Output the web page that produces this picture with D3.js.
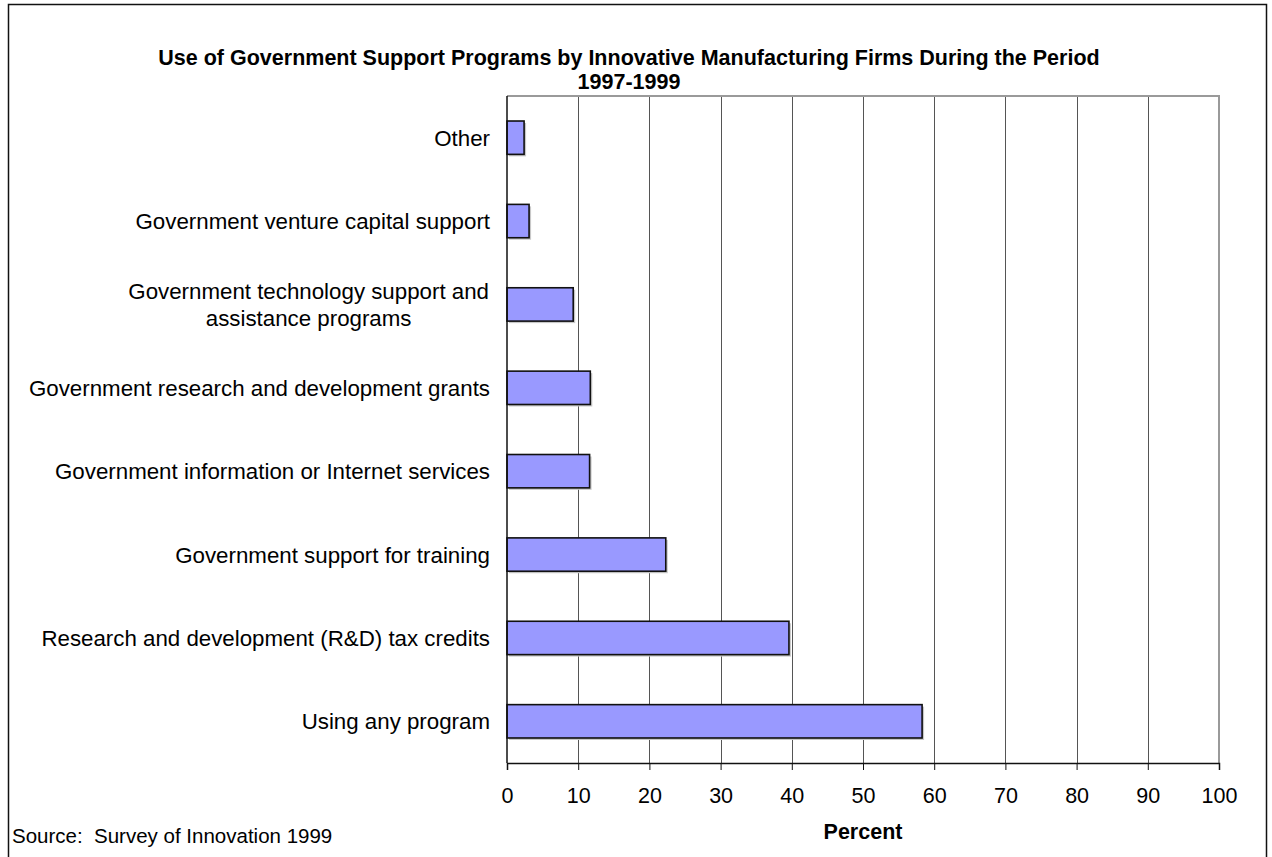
<!DOCTYPE html>
<html>
<head>
<meta charset="utf-8">
<script src="https://cdn.jsdelivr.net/npm/d3@7"></script>
<style>
  html, body { margin: 0; padding: 0; background: #fff; }
  svg { display: block; font-family: "Liberation Sans", Arial, sans-serif; }
</style>
</head>
<body>
<svg id="chart" width="1272" height="857"></svg>
<script>
// Programs listed top to bottom, with share of innovative manufacturing firms (%)
const categories = [
  ["Other"],
  ["Government venture capital support"],
  ["Government technology support and", "assistance programs"],
  ["Government research and development grants"],
  ["Government information or Internet services"],
  ["Government support for training"],
  ["Research and development (R&D) tax credits"],
  ["Using any program"]
];
const values = [2.4, 3.1, 9.3, 11.7, 11.6, 22.3, 39.6, 58.3];
const xTicks = [0, 10, 20, 30, 40, 50, 60, 70, 80, 90, 100];
const titleLines = [
  "Use of Government Support Programs by Innovative Manufacturing Firms During the Period",
  "1997-1999"
];
const xTitle = "Percent";
const sourceNote = "Source:\u00a0\u00a0Survey of Innovation 1999";

const svg = d3.select("#chart");
const plot = { left: 507, right: 1219, top: 96, bottom: 763 };

const x = d3.scaleLinear().domain([0, 100]).range([plot.left, plot.right]);
const y = d3.scaleBand()
  .domain(d3.range(categories.length))
  .range([plot.top, plot.bottom])
  .paddingInner(0.6)
  .paddingOuter(0.3);

// Outer frame
svg.append("path")
  .attr("d", `M8.5,857 V4.5 H1266.5 V857`)
  .attr("fill", "none")
  .attr("stroke", "#111")
  .attr("stroke-width", 1.5);

// Title
svg.append("g").selectAll("text")
  .data(titleLines)
  .join("text")
  .attr("x", 629)
  .attr("y", (d, i) => 65 + i * 24)
  .attr("text-anchor", "middle")
  .attr("font-weight", "bold")
  .attr("font-size", 21.5)
  .text(d => d);

// Vertical gridlines
svg.append("g").selectAll("line")
  .data(xTicks.slice(1, -1))
  .join("line")
  .attr("x1", d => Math.round(x(d)) + 0.5)
  .attr("x2", d => Math.round(x(d)) + 0.5)
  .attr("y1", plot.top)
  .attr("y2", plot.bottom)
  .attr("stroke", "#555")
  .attr("stroke-width", 1);

// Plot area border (top and right)
svg.append("path")
  .attr("d", `M${plot.left},${plot.top} H${plot.right} V${plot.bottom}`)
  .attr("fill", "none")
  .attr("stroke", "#9a9a9a")
  .attr("stroke-width", 2);

// Bars: drop shadow then bar
const bars = svg.append("g");
bars.selectAll("rect.shadow")
  .data(values)
  .join("rect")
  .attr("class", "shadow")
  .attr("x", x(0) + 2)
  .attr("y", (d, i) => y(i) + 2)
  .attr("width", d => x(d) - x(0))
  .attr("height", y.bandwidth())
  .attr("fill", "#c8c8c8");
bars.selectAll("rect.bar")
  .data(values)
  .join("rect")
  .attr("class", "bar")
  .attr("x", x(0))
  .attr("y", (d, i) => y(i))
  .attr("width", d => x(d) - x(0))
  .attr("height", y.bandwidth())
  .attr("fill", "#9999ff")
  .attr("stroke", "#111")
  .attr("stroke-width", 1.6);

// Bottom axis
const xAxis = d3.axisBottom(x)
  .tickValues(xTicks)
  .tickSize(7)
  .tickFormat(d3.format("d"));
const gx = svg.append("g")
  .attr("transform", `translate(0,${plot.bottom})`)
  .call(xAxis);
gx.select(".domain").attr("stroke", "#111").attr("stroke-width", 1.5);
gx.selectAll(".tick line").attr("stroke", "#111");
gx.selectAll(".tick text")
  .attr("y", 40)
  .attr("dy", null)
  .attr("font-size", 21.5)
  .attr("font-family", "Liberation Sans, Arial, sans-serif")
  .attr("fill", "#000");

// Left axis line
svg.append("line")
  .attr("x1", plot.left).attr("x2", plot.left)
  .attr("y1", plot.top).attr("y2", plot.bottom)
  .attr("stroke", "#111")
  .attr("stroke-width", 1.5);

// Category labels, right aligned; wrapped lines centred within their block
const labelSize = 22.3;
const lineGap = 26.5;
const labels = svg.append("g").attr("font-size", labelSize);
categories.forEach((lines, i) => {
  const cy = y(i) + y.bandwidth() / 2;
  const t = labels.append("text").attr("fill", "#000");
  const y0 = cy - (lines.length - 1) * lineGap / 2 + labelSize * 0.36;
  lines.forEach((ln, j) => {
    t.append("tspan").attr("y", y0 + j * lineGap).text(ln);
  });
  if (lines.length === 1) {
    t.attr("text-anchor", "end");
    t.selectAll("tspan").attr("x", 490);
  } else {
    // measure widest line and centre all lines on it
    const widths = [];
    t.selectAll("tspan").each(function () { widths.push(this.getComputedTextLength()); });
    const w = d3.max(widths);
    t.attr("text-anchor", "middle");
    t.selectAll("tspan").attr("x", 489 - w / 2);
  }
});

// Axis title
svg.append("text")
  .attr("x", (plot.left + plot.right) / 2)
  .attr("y", 839)
  .attr("text-anchor", "middle")
  .attr("font-weight", "bold")
  .attr("font-size", 21.5)
  .text(xTitle);

// Source note
svg.append("text")
  .attr("x", 12)
  .attr("y", 843)
  .attr("font-size", 20.5)
  .text(sourceNote);
</script>
</body>
</html>
